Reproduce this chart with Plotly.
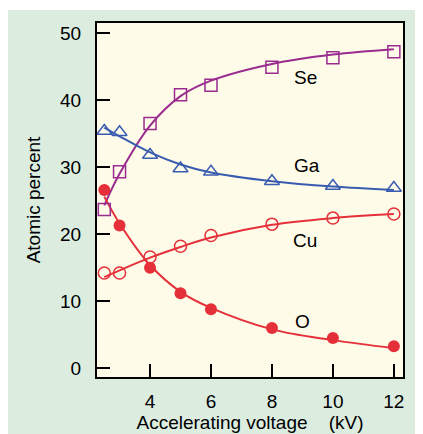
import plotly.graph_objects as go

voltage = [2.5, 3, 4, 5, 6, 8, 10, 12]
se_pts = [23.7, 29.3, 36.5, 40.8, 42.2, 44.9, 46.3, 47.2]
ga_pts = [35.4, 35.2, 31.8, 29.8, 29.3, 27.9, 27.2, 26.9]
cu_pts = [14.2, 14.2, 16.6, 18.2, 19.8, 21.5, 22.4, 23.0]
o_pts = [26.6, 21.3, 15.0, 11.2, 8.8, 6.0, 4.5, 3.3]

# fitted curves
se_fit = [24.3, 29.0, 36.2, 40.6, 42.9, 45.4, 46.8, 47.6]
ga_fit = [35.9, 34.6, 32.2, 30.4, 29.2, 27.9, 27.1, 26.6]
cu_fit = [13.6, 14.6, 16.5, 18.1, 19.5, 21.4, 22.4, 23.0]
o_fit = [25.6, 21.6, 15.4, 11.4, 9.0, 5.8, 4.2, 3.0]

x_ticks = [4, 6, 8, 10, 12]
y_ticks = [0, 10, 20, 30, 40, 50]

labels = ["Se", "Ga", "Cu", "O"]
label_x = [9.1, 9.15, 9.1, 9.0]
label_y = [43.4, 30.3, 19.1, 7.0]

purple = "#9a2b8f"
blue = "#3a5cb0"
red = "#e5303a"

fig = go.Figure()
for fit, col in [(se_fit, purple), (ga_fit, blue), (cu_fit, red), (o_fit, red)]:
    fig.add_trace(go.Scatter(x=voltage, y=fit, mode="lines",
                             line=dict(color=col, width=2, shape="spline", smoothing=1.0),
                             hoverinfo="skip"))

fig.add_trace(go.Scatter(x=voltage, y=se_pts, mode="markers",
                         marker=dict(symbol="square-open", size=12, color=purple, line=dict(width=1.5))))
fig.add_trace(go.Scatter(x=voltage, y=ga_pts, mode="markers",
                         marker=dict(symbol="triangle-up-open", size=13, color=blue, line=dict(width=1.5))))
fig.add_trace(go.Scatter(x=voltage, y=cu_pts, mode="markers",
                         marker=dict(symbol="circle-open", size=12, color=red, line=dict(width=1.5))))
fig.add_trace(go.Scatter(x=voltage, y=o_pts, mode="markers",
                         marker=dict(symbol="circle", size=12, color=red)))

for t, lx, ly in zip(labels, label_x, label_y):
    fig.add_annotation(x=lx, y=ly, text=t, showarrow=False,
                       font=dict(size=19, color="black"), xanchor="center", yanchor="middle")

fig.update_layout(
    width=423, height=434,
    margin=dict(l=89, r=28, t=15, b=65),
    paper_bgcolor="#dcede0",
    plot_bgcolor="#fefbe9",
    showlegend=False,
    font=dict(family="Liberation Sans, Arial, sans-serif", color="black", size=19),
    shapes=[
        dict(type="rect", xref="paper", yref="paper", x0=-0.4, x1=1.2, y0=1.0367, y1=1.2,
             fillcolor="white", line=dict(width=0), layer="above"),
    ],
)
fig.update_xaxes(range=[2.26, 12.3], tickvals=x_ticks, ticks="inside", ticklen=13, tickwidth=2,
                 tickcolor="black", showline=True, linecolor="black", linewidth=2, mirror=True,
                 showgrid=False, zeroline=False, tickfont=dict(size=19), automargin=False,
                 ticklabelstandoff=6,
                 title=dict(text="Accelerating voltage    (kV)", font=dict(size=19), standoff=4))
fig.update_yaxes(range=[-1.3, 51.5], tickvals=y_ticks, ticks="inside", ticklen=13, tickwidth=2,
                 tickcolor="black", showline=True, linecolor="black", linewidth=2, mirror=True,
                 showgrid=False, zeroline=False, tickfont=dict(size=19), automargin=False,
                 ticklabelstandoff=10,
                 title=dict(text="Atomic percent", font=dict(size=19), standoff=14))

fig.write_html("out.html")
